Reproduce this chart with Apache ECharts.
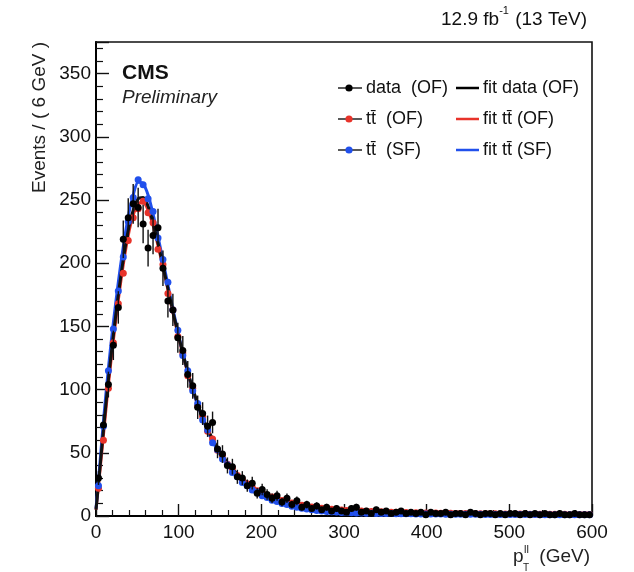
<!DOCTYPE html>
<html>
<head>
<meta charset="utf-8">
<script src="https://cdn.jsdelivr.net/npm/echarts@6/dist/echarts.min.js"></script>
<style>
html,body{margin:0;padding:0;background:#fff;}
#chart{width:634px;height:572px;}
</style>
</head>
<body>
<div id="chart"></div>
<script>
// ---- data ----
const binCenters = [3,9,15,21,27,33,39,45,51,57,63,69,75,81,87,93,99,105,111,117,123,129,135,141,147,153,159,165,171,177,183,189,195,201,207,213,219,225,231,237,243,249,255,261,267,273,279,285,291,297,303,309,315,321,327,333,339,345,351,357,363,369,375,381,387,393,399,405,411,417,423,429,435,441,447,453,459,465,471,477,483,489,495,501,507,513,519,525,531,537,543,549,555,561,567,573,579,585,591,597];
const xTicks = [0,100,200,300,400,500,600];
const yTicks = [0,50,100,150,200,250,300,350];

const dataOF = [30,72,104,135,165,219,236,247,244,231,212,222,228,196,170,163,141,131,112,103,86,81,71,74,53,49,40,39,31,30,24,26,18,21,17,14,16,11,14,9,12,7,9,6,8,5,7,4,6,4,3,6,7,3,4,2,5,3,4,2,3,4,2,3,2,3,1,3,2,2,3,1,2,2,1,3,2,1,2,2,1,2,1,2,2,1,2,1,2,1,2,1,1,2,1,1,2,1,1,1];

const ttOF = [22,60,101,137,168,192,218,236,243,249,240,232,211,199,176,163,142,129,111,101,87,79,67,61,52,48,41,38,32,29,25.5,22.8,20,18.5,16.2,15,13.4,12.3,11,10.2,9.1,8.5,7.6,7.2,6.5,6.2,5.6,5.4,5.0,4.8,4.4,4.3,4.0,3.9,3.7,3.6,3.4,3.3,3.1,3.0,2.9,2.85,2.7,2.65,2.55,2.5,2.4,2.35,2.3,2.2,2.2,2.1,2.05,2.0,1.95,1.9,1.85,1.82,1.78,1.74,1.7,1.66,1.63,1.6,1.56,1.53,1.5,1.48,1.45,1.42,1.4,1.37,1.35,1.32,1.3,1.27,1.25,1.23,1.21,1.2];

const ttSF = [24,71,115,148,178,205,233,252,266,262,251,241,220,203,185,163,147,127,115,99,89,76,68,58,52.5,45,40.5,34.5,31,26.5,24,20.6,18.7,16,14.6,12.5,11.4,9.8,9.0,7.7,7.0,6.1,5.5,4.9,4.4,4.0,3.6,3.3,3.1,2.8,2.7,2.5,2.4,2.3,2.2,2.1,2.05,2.0,1.95,1.9,1.85,1.8,1.76,1.72,1.68,1.64,1.6,1.57,1.54,1.5,1.47,1.45,1.42,1.4,1.37,1.35,1.32,1.3,1.28,1.26,1.24,1.22,1.2,1.18,1.16,1.14,1.12,1.1,1.09,1.07,1.05,1.04,1.02,1.0,0.99,0.97,0.96,0.95,0.93,0.92];

// fit curves: first value at pT = 0, then one per bin centre
const fitDataOF = [5,25,68,108,143,175,203,226,242,251,252,245,232,216,198,180,162,145,129,114,101,89,78,69,61,54,48,42,37.5,33,29.5,26,23,20.5,18.5,16.8,15.2,13.8,12.5,11.3,10.3,9.4,8.6,7.9,7.3,6.8,6.3,5.9,5.5,5.2,4.9,4.6,4.4,4.2,4.0,3.8,3.65,3.5,3.35,3.2,3.1,3.0,2.9,2.8,2.7,2.62,2.55,2.48,2.4,2.34,2.28,2.22,2.16,2.1,2.05,2.0,1.95,1.9,1.86,1.82,1.78,1.74,1.7,1.66,1.63,1.6,1.57,1.54,1.51,1.48,1.45,1.42,1.4,1.37,1.35,1.33,1.3,1.28,1.26,1.24,1.22];
const fitTtOF = [5,24,64,104,139,171,199,222,238,247,248,242,230,214,197,179,161,144,128,113,100,88,77.5,68.5,60.5,53.5,47.5,42,37.2,33,29.3,26,23,20.5,18.3,16.6,15,13.6,12.3,11.2,10.2,9.3,8.5,7.8,7.2,6.7,6.2,5.8,5.4,5.1,4.8,4.4,4.3,4.0,3.9,3.7,3.6,3.4,3.3,3.1,3.0,2.9,2.85,2.7,2.65,2.55,2.5,2.4,2.35,2.3,2.2,2.2,2.1,2.05,2.0,1.95,1.9,1.85,1.82,1.78,1.74,1.7,1.66,1.63,1.6,1.56,1.53,1.5,1.48,1.45,1.42,1.4,1.37,1.35,1.32,1.3,1.27,1.25,1.23,1.21,1.2];
const fitTtSF = [6,28,75,117,153,185,213,237,254,264,263,254,239,221,202,183,164,146,129,114,100,88,77,67.5,59,52,45.5,40,35,31,27,24,21,18.5,16.3,14.4,12.7,11.2,9.9,8.8,7.8,6.9,6.1,5.4,4.8,4.3,3.8,3.4,3.1,2.85,2.65,2.5,2.4,2.3,2.2,2.1,2.05,2.0,1.95,1.9,1.85,1.8,1.76,1.72,1.68,1.64,1.6,1.57,1.54,1.5,1.47,1.45,1.42,1.4,1.37,1.35,1.32,1.3,1.28,1.26,1.24,1.22,1.2,1.18,1.16,1.14,1.12,1.1,1.09,1.07,1.05,1.04,1.02,1.0,0.99,0.97,0.96,0.95,0.93,0.92];

const binWidth = 6;
const fitPt = [0].concat(binCenters);

// ---- styles ----
const FONT = 'Liberation Sans, Arial, Helvetica, sans-serif';
const BLACK = '#000000';
const RED = '#e8332a';
const BLUE = '#2150ec';
const GRID = {left: 96, right: 42, top: 42, bottom: 56};

const pairs = (xs, ys) => ys.map((y, i) => [xs[i], y]);

const chart = echarts.init(document.getElementById('chart'), null, {renderer: 'canvas'});

function errRender(params, api) {
  const x = api.value(0), y = api.value(1), e = api.value(2);
  if (!(y > 0)) return null;
  const c = api.coord([x, y]);
  const lo = api.coord([x, Math.max(y - e, 0)]);
  const hi = api.coord([x, y + e]);
  const l = api.coord([x - binWidth / 2, y]);
  const r = api.coord([x + binWidth / 2, y]);
  const st = {stroke: '#111', lineWidth: 1.4};
  return {
    type: 'group',
    children: [
      {type: 'line', shape: {x1: c[0], y1: lo[1], x2: c[0], y2: hi[1]}, style: st},
      {type: 'line', shape: {x1: l[0], y1: c[1], x2: r[0], y2: c[1]}, style: st}
    ]
  };
}

// legend rows
const legendRows = [
  {left: 'data  (OF)', lc: BLACK, right: 'fit data (OF)', rc: BLACK},
  {left: 't\u0074\u0304  (OF)', lc: RED, right: 'fit t\u0074\u0304 (OF)', rc: RED},
  {left: 't\u0074\u0304  (SF)', lc: BLUE, right: 'fit t\u0074\u0304 (SF)', rc: BLUE}
];
const legendEls = [];
legendRows.forEach((row, i) => {
  const y = 88 + i * 31;
  legendEls.push({type: 'line', shape: {x1: 338, y1: y, x2: 362, y2: y}, style: {stroke: '#222', lineWidth: 1.5}});
  legendEls.push({type: 'circle', shape: {cx: 349, cy: y, r: 3.6}, style: {fill: row.lc}});
  legendEls.push({type: 'text', x: 366, y: y, style: {text: row.left, font: '18px ' + FONT, fill: '#111', align: 'left', verticalAlign: 'middle'}});
  legendEls.push({type: 'line', shape: {x1: 456, y1: y, x2: 479, y2: y}, style: {stroke: row.rc, lineWidth: 2.5}});
  legendEls.push({type: 'text', x: 483, y: y, style: {text: row.right, font: '18px ' + FONT, fill: '#111', align: 'left', verticalAlign: 'middle'}});
});

const option = {
  animation: false,
  backgroundColor: '#fff',
  title: [
    {
      text: '{a|12.9 fb}{s|-1}{a| (13 TeV)}',
      right: 42, top: 0,
      textStyle: {
        fontWeight: 'normal',
        rich: {
          a: {fontFamily: FONT, fontSize: 19, fontWeight: 'normal', color: '#111', lineHeight: 24, verticalAlign: 'bottom'},
          s: {fontFamily: FONT, fontSize: 11, fontWeight: 'normal', color: '#111', lineHeight: 24, verticalAlign: 'top', padding: [0, 1, 10, 0]}
        }
      }
    },
    {text: 'CMS', left: 117, top: 58, textStyle: {fontFamily: FONT, fontSize: 21, fontWeight: 'bold', color: '#111'}},
    {text: 'Preliminary', left: 117, top: 83, textStyle: {fontFamily: FONT, fontSize: 19, fontStyle: 'italic', fontWeight: 'normal', color: '#222'}}
  ],
  grid: {left: GRID.left, right: GRID.right, top: GRID.top, bottom: GRID.bottom, show: true, borderColor: '#111', borderWidth: 1.6, backgroundColor: 'transparent'},
  xAxis: {
    type: 'value', min: xTicks[0], max: xTicks[xTicks.length - 1], interval: xTicks[1] - xTicks[0],
    axisLine: {show: true, onZero: false, lineStyle: {color: '#000', width: 2.2}},
    axisTick: {show: true, inside: true, length: 12, lineStyle: {color: '#111', width: 1.4}},
    minorTick: {show: true, splitNumber: 5, length: 6, lineStyle: {color: '#111', width: 1.2}},
    axisLabel: {fontFamily: FONT, fontSize: 19, color: '#111', margin: 7},
    splitLine: {show: false}
  },
  yAxis: {
    type: 'value', min: yTicks[0], max: 375, interval: yTicks[1] - yTicks[0],
    axisLine: {show: true, onZero: false, lineStyle: {color: '#000', width: 2}},
    axisTick: {show: true, inside: true, length: 13, lineStyle: {color: '#111', width: 1.4}},
    minorTick: {show: true, splitNumber: 5, length: 7, lineStyle: {color: '#111', width: 1.2}},
    axisLabel: {fontFamily: FONT, fontSize: 19, color: '#111', margin: 5, showMaxLabel: false},
    splitLine: {show: false}
  },
  graphic: [
    {type: 'text', x: 40, y: 42, rotation: Math.PI / 2,
     style: {text: 'Events / ( 6 GeV )', font: '19px ' + FONT, fill: '#222', align: 'right', verticalAlign: 'middle'}},
    {type: 'text', x: 590, y: 557, style: {text: '(GeV)', font: '19px ' + FONT, fill: '#222', align: 'right', verticalAlign: 'middle'}},
    {type: 'text', x: 513, y: 557, style: {text: 'p', font: '19px ' + FONT, fill: '#222', align: 'left', verticalAlign: 'middle'}},
    {type: 'text', x: 524, y: 550, style: {text: 'll', font: '11px ' + FONT, fill: '#222', align: 'left', verticalAlign: 'middle'}},
    {type: 'text', x: 523, y: 568, style: {text: 'T', font: '10px ' + FONT, fill: '#222', align: 'left', verticalAlign: 'middle'}}
  ].concat(legendEls),
  series: [
    {name: 'fit t\u0074\u0304 (OF)', type: 'line', data: pairs(fitPt, fitTtOF), smooth: 0.3, showSymbol: false, lineStyle: {color: RED, width: 3}, z: 2},
    {name: 'fit t\u0074\u0304 (SF)', type: 'line', data: pairs(fitPt, fitTtSF), smooth: 0.3, showSymbol: false, lineStyle: {color: BLUE, width: 3}, z: 2},
    {name: 'fit data (OF)', type: 'line', data: pairs(fitPt, fitDataOF), smooth: 0.3, showSymbol: false, lineStyle: {color: '#111', width: 3}, z: 3},
    {name: 't\u0074\u0304  (OF)', type: 'scatter', data: pairs(binCenters, ttOF), symbol: 'circle', symbolSize: 7, itemStyle: {color: RED, opacity: 1}, z: 4},
    {name: 't\u0074\u0304  (SF)', type: 'scatter', data: pairs(binCenters, ttSF), symbol: 'circle', symbolSize: 7, itemStyle: {color: BLUE, opacity: 1}, z: 5},
    {name: 'data  (OF) errors', type: 'custom', renderItem: errRender,
     data: dataOF.map((v, i) => [binCenters[i], v, Math.sqrt(v)]), z: 6, clip: true},
    {name: 'data  (OF)', type: 'scatter', data: pairs(binCenters, dataOF), symbol: 'circle', symbolSize: 7, itemStyle: {color: '#000', opacity: 1}, z: 7}
  ]
};
chart.setOption(option);
</script>
</body>
</html>
